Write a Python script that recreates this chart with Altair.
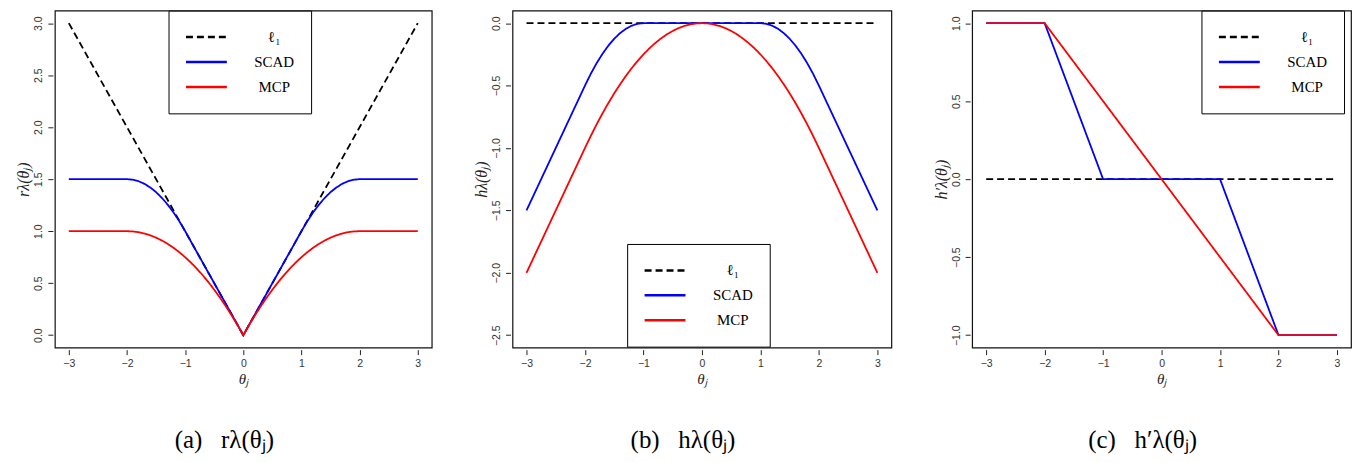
import altair as alt
import pandas as pd

# ---------------- data ----------------
SERIES = ["ℓ₁", "SCAD", "MCP"]
COLORS = ["black", "blue", "red"]
DASHES = [[7, 4], [1, 0], [1, 0]]

THETA = [-3.0, -2.9, -2.8, -2.7, -2.6, -2.5, -2.4, -2.3, -2.2, -2.1,
         -2.0, -1.9, -1.8, -1.7, -1.6, -1.5, -1.4, -1.3, -1.2, -1.1,
         -1.0, -0.9, -0.8, -0.7, -0.6, -0.5, -0.4, -0.3, -0.2, -0.1,
         0.0,
         0.1, 0.2, 0.3, 0.4, 0.5, 0.6, 0.7, 0.8, 0.9, 1.0,
         1.1, 1.2, 1.3, 1.4, 1.5, 1.6, 1.7, 1.8, 1.9, 2.0,
         2.1, 2.2, 2.3, 2.4, 2.5, 2.6, 2.7, 2.8, 2.9, 3.0]

# panel (a): r_lambda
A_L1_X = [-3.0, 0.0, 3.0]
A_L1_Y = [3.0, 0.0, 3.0]
A_SCAD = [1.5, 1.5, 1.5, 1.5, 1.5, 1.5, 1.5, 1.5, 1.5, 1.5,
          1.5, 1.495, 1.48, 1.455, 1.42, 1.375, 1.32, 1.255, 1.18, 1.095,
          1.0, 0.9, 0.8, 0.7, 0.6, 0.5, 0.4, 0.3, 0.2, 0.1,
          0.0,
          0.1, 0.2, 0.3, 0.4, 0.5, 0.6, 0.7, 0.8, 0.9, 1.0,
          1.095, 1.18, 1.255, 1.32, 1.375, 1.42, 1.455, 1.48, 1.495, 1.5,
          1.5, 1.5, 1.5, 1.5, 1.5, 1.5, 1.5, 1.5, 1.5, 1.5]
A_MCP = [1.0, 1.0, 1.0, 1.0, 1.0, 1.0, 1.0, 1.0, 1.0, 1.0,
         1.0, 0.9975, 0.99, 0.9775, 0.96, 0.9375, 0.91, 0.8775, 0.84, 0.7975,
         0.75, 0.6975, 0.64, 0.5775, 0.51, 0.4375, 0.36, 0.2775, 0.19, 0.0975,
         0.0,
         0.0975, 0.19, 0.2775, 0.36, 0.4375, 0.51, 0.5775, 0.64, 0.6975, 0.75,
         0.7975, 0.84, 0.8775, 0.91, 0.9375, 0.96, 0.9775, 0.99, 0.9975, 1.0,
         1.0, 1.0, 1.0, 1.0, 1.0, 1.0, 1.0, 1.0, 1.0, 1.0]

# panel (b): h_lambda
B_L1_X = [-3.0, 3.0]
B_L1_Y = [0.0, 0.0]
B_SCAD = [-1.5, -1.4, -1.3, -1.2, -1.1, -1.0, -0.9, -0.8, -0.7, -0.6,
          -0.5, -0.405, -0.32, -0.245, -0.18, -0.125, -0.08, -0.045, -0.02, -0.005,
          0.0, 0.0, 0.0, 0.0, 0.0, 0.0, 0.0, 0.0, 0.0, 0.0,
          0.0,
          0.0, 0.0, 0.0, 0.0, 0.0, 0.0, 0.0, 0.0, 0.0, 0.0,
          -0.005, -0.02, -0.045, -0.08, -0.125, -0.18, -0.245, -0.32, -0.405, -0.5,
          -0.6, -0.7, -0.8, -0.9, -1.0, -1.1, -1.2, -1.3, -1.4, -1.5]
B_MCP = [-2.0, -1.9, -1.8, -1.7, -1.6, -1.5, -1.4, -1.3, -1.2, -1.1,
         -1.0, -0.9025, -0.81, -0.7225, -0.64, -0.5625, -0.49, -0.4225, -0.36, -0.3025,
         -0.25, -0.2025, -0.16, -0.1225, -0.09, -0.0625, -0.04, -0.0225, -0.01, -0.0025,
         0.0,
         -0.0025, -0.01, -0.0225, -0.04, -0.0625, -0.09, -0.1225, -0.16, -0.2025, -0.25,
         -0.3025, -0.36, -0.4225, -0.49, -0.5625, -0.64, -0.7225, -0.81, -0.9025, -1.0,
         -1.1, -1.2, -1.3, -1.4, -1.5, -1.6, -1.7, -1.8, -1.9, -2.0]

# panel (c): h'_lambda
C_L1_X = [-3.0, 3.0]
C_L1_Y = [0.0, 0.0]
C_SCAD_X = [-3.0, -2.0, -1.0, 1.0, 2.0, 3.0]
C_SCAD_Y = [1.0, 1.0, 0.0, 0.0, -1.0, -1.0]
C_MCP_X = [-3.0, -2.0, 2.0, 3.0]
C_MCP_Y = [1.0, 1.0, -1.0, -1.0]

X_TICKS = [-3, -2, -1, 0, 1, 2, 3]
A_TICKS = [0.0, 0.5, 1.0, 1.5, 2.0, 2.5, 3.0]
B_TICKS = [0.0, -0.5, -1.0, -1.5, -2.0, -2.5]
C_TICKS = [1.0, 0.5, 0.0, -0.5, -1.0]

NB = "\u00a0"
CAPTIONS = ["(a)" + NB * 3 + "rλ(θⱼ)",
            "(b)" + NB * 3 + "hλ(θⱼ)",
            "(c)" + NB * 3 + "h′λ(θⱼ)"]


def frame(parts):
    rows = []
    for name, xs, ys in parts:
        for xv, yv in zip(xs, ys):
            rows.append({"theta": xv, "value": yv, "series": name})
    return pd.DataFrame(rows)


H = 338
SERIF = "Liberation Serif"


def panel(df, w, ydom, yticks, ytitle, caption, lx, ly):
    leg = alt.Legend(orient="none", legendX=lx, legendY=ly, title=None,
                     direction="vertical", strokeColor="black",
                     fillColor="white", padding=16, symbolType="stroke",
                     symbolSize=1681, symbolStrokeWidth=2.5,
                     labelFont=SERIF, labelFontSize=15,
                     labelColor="black", labelAlign="center", labelOffset=46,
                     labelExpr="datum.label + '\u00a0\u00a0\u00a0\u00a0'",
                     rowPadding=4, clipHeight=21)
    base = alt.Chart(df).mark_line(strokeWidth=1.8, clip=True).encode(
        x=alt.X("theta:Q",
                scale=alt.Scale(domain=[-3.24, 3.24], nice=False, zero=False),
                axis=alt.Axis(values=X_TICKS, format="d", title="θⱼ")),
        y=alt.Y("value:Q",
                scale=alt.Scale(domain=ydom, nice=False, zero=False),
                axis=alt.Axis(values=yticks, format=".1f", title=ytitle,
                              labelAngle=270, labelAlign="center",
                              labelBaseline="bottom", titleFontSize=16)),
        color=alt.Color("series:N",
                        scale=alt.Scale(domain=SERIES, range=COLORS),
                        legend=leg),
        strokeDash=alt.StrokeDash("series:N",
                                  scale=alt.Scale(domain=SERIES, range=DASHES),
                                  legend=leg),
    )
    layers = [base.transform_filter(alt.datum.series == s) for s in SERIES]
    return alt.layer(*layers).properties(
        width=w, height=H,
        title=alt.TitleParams(caption, orient="bottom", anchor="middle",
                              font=SERIF, fontSize=25, dx=-19,
                              fontWeight="normal", color="black", offset=42))


df_a = frame([("ℓ₁", A_L1_X, A_L1_Y), ("SCAD", THETA, A_SCAD), ("MCP", THETA, A_MCP)])
df_b = frame([("ℓ₁", B_L1_X, B_L1_Y), ("SCAD", THETA, B_SCAD), ("MCP", THETA, B_MCP)])
df_c = frame([("ℓ₁", C_L1_X, C_L1_Y), ("SCAD", C_SCAD_X, C_SCAD_Y), ("MCP", C_MCP_X, C_MCP_Y)])

pa = panel(df_a, 378, [-0.12, 3.12], A_TICKS, "rλ(θⱼ)", CAPTIONS[0], 114, 0)
pb = panel(df_b, 380, [-2.6, 0.1], B_TICKS, "hλ(θⱼ)", CAPTIONS[1], 115, 234)
pc = panel(df_c, 380, [-1.08, 1.08], C_TICKS, "h′λ(θⱼ)", CAPTIONS[2], 230, 0)

chart = alt.hconcat(pa, pb, pc, spacing=40).resolve_scale(
    color="independent", strokeDash="independent"
).resolve_legend(
    color="independent", strokeDash="independent"
).configure_view(
    stroke="#111", strokeWidth=1.2
).configure_axis(
    domain=False, grid=False, offset=2, tickSize=5, tickColor="#222",
    tickWidth=1, labelFont="Liberation Sans", labelFontSize=10.5,
    labelColor="#333", labelPadding=4,
    titleFont=SERIF, titleFontStyle="italic", titleFontSize=15,
    titleFontWeight="normal", titleColor="#222", titlePadding=2
).configure_title(
    font=SERIF, fontWeight="normal"
).properties(
    padding={"left": 7, "top": 0, "right": 0, "bottom": 0},
    background="white"
)

chart.save("out.html", embed_options={"renderer": "svg", "actions": False})
